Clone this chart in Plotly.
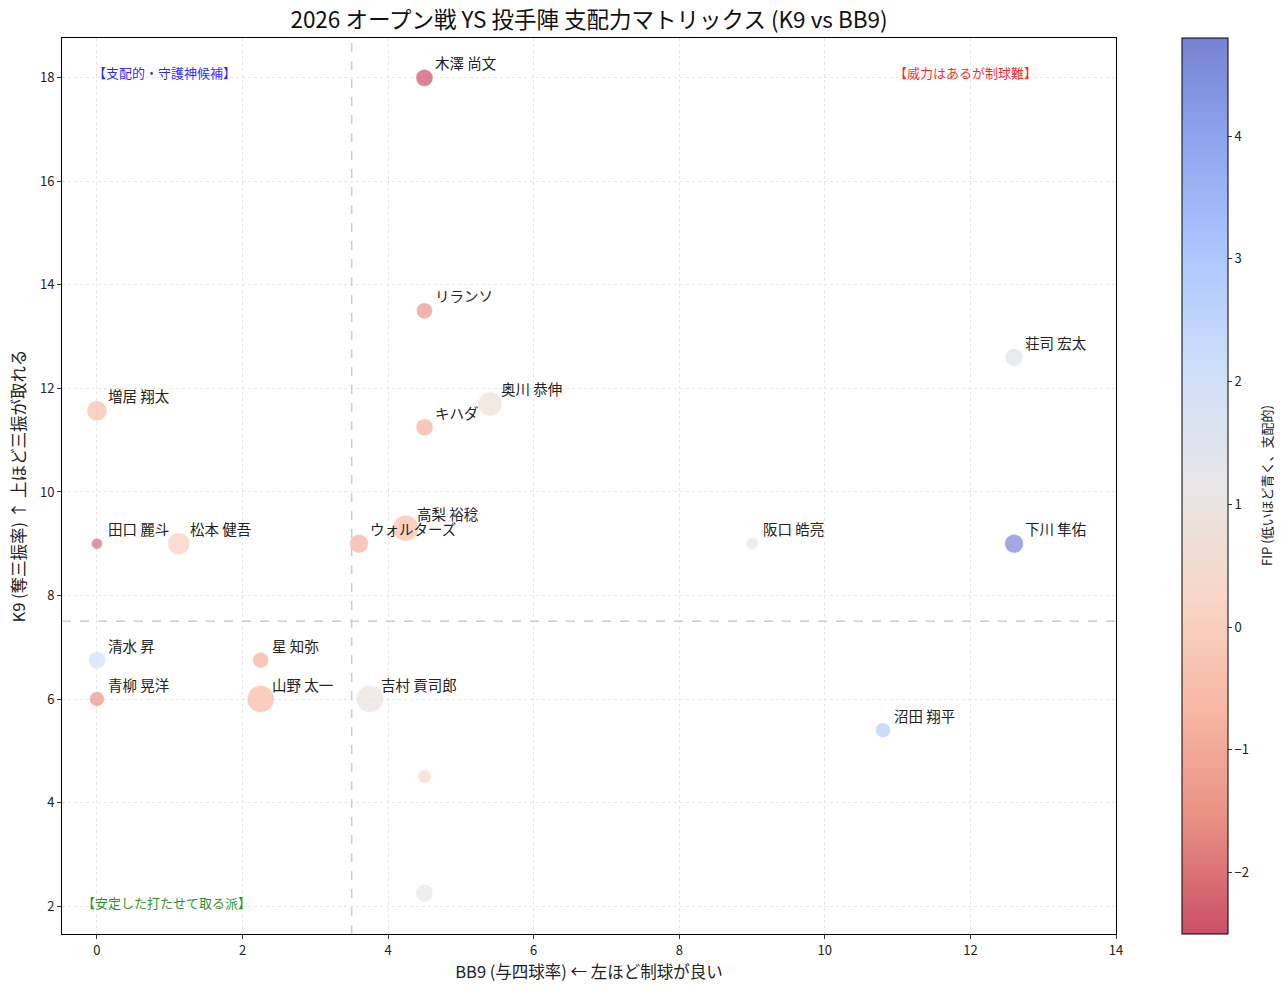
import plotly.graph_objects as go

names = ["木澤 尚文", "リランソ", "荘司 宏太", "奥川 恭伸", "増居 翔太", "キハダ", "田口 麗斗",
         "松本 健吾", "ウォルターズ", "高梨 裕稔", "阪口 皓亮", "下川 隼佑", "清水 昇", "星 知弥",
         "青柳 晃洋", "山野 太一", "吉村 貢司郎", "沼田 翔平", "", ""]
bb9 = [4.5, 4.5, 12.6, 5.4, 0.0, 4.5, 0.0, 1.125, 3.6, 4.24, 9.0, 12.6, 0.0, 2.25, 0.0, 2.25, 3.75, 10.8, 4.5, 4.5]
k9 = [18.0, 13.5, 12.6, 11.7, 11.57, 11.25, 9.0, 9.0, 9.0, 9.3, 9.0, 9.0, 6.75, 6.75, 6.0, 6.0, 6.0, 5.4, 4.5, 2.25]
fip = [-2.5, -1.5, 1.6, 0.7, -0.5, -0.8, -2.1, 0.0, -0.8, -0.5, 1.0, 4.7, 2.0, -0.8, -1.5, -0.6, 1.0, 2.8, 0.3, 1.1]
batters = [24, 21, 26, 47, 33, 24, 10, 40, 29, 55, 12, 29, 24, 21, 18, 60, 60, 18, 14, 24]

fip_min, fip_max = -2.5, 4.8
k9_line, bb9_line = 7.5, 3.5

# matplotlib coolwarm_r blended with white at alpha 0.7
coolwarm = [(59, 76, 192), (98, 130, 234), (141, 176, 254), (187, 210, 246), (221, 220, 220),
            (245, 196, 173), (244, 152, 122), (221, 96, 76), (180, 4, 38)]
alpha = 0.7
def blend(c):
    return "rgb(%d,%d,%d)" % tuple(round(alpha * v + (1 - alpha) * 255) for v in c)
rev = coolwarm[::-1]
colorscale = [[i / (len(rev) - 1), blend(c)] for i, c in enumerate(rev)]

sizes = [(b ** 0.5) * 3.5 for b in batters]

FONT = "Noto Sans CJK JP, Noto Sans, sans-serif"

fig = go.Figure()
fig.add_trace(go.Scatter(
    x=bb9, y=k9, mode="markers",
    marker=dict(size=sizes, color=fip, cmin=fip_min, cmax=fip_max, colorscale=colorscale,
                line=dict(color="white", width=0.5),
                colorbar=dict(
                    x=1.0626, xanchor="left", xpad=0, y=0.5, yanchor="middle", ypad=0,
                    len=1, lenmode="fraction", thickness=46,
                    outlinecolor="black", outlinewidth=1,
                    ticks="outside", ticklen=4, tickcolor="#333",
                    tickvals=[-2, -1, 0, 1, 2, 3, 4],
                    ticktext=["−2", "−1", "0", "1", "2", "3", "4"],
                    tickfont=dict(size=13, color="#222"))),
    hovertext=names, showlegend=False))

fig.add_shape(type="line", x0=bb9_line, x1=bb9_line, y0=0, y1=1, xref="x", yref="paper",
              line=dict(color="#cccccc", width=1.5, dash="dash"))
fig.add_shape(type="line", x0=0, x1=1, y0=k9_line, y1=k9_line, xref="paper", yref="y",
              line=dict(color="#cccccc", width=1.5, dash="dash"))

for n, x, y in zip(names, bb9, k9):
    if n:
        fig.add_annotation(x=x, y=y, text=n, showarrow=False, xanchor="left", yanchor="middle",
                           xshift=9, yshift=15, font=dict(size=14.5, color="#222"))

fig.add_annotation(x=0, y=18, text="【支配的・守護神候補】", showarrow=False, xanchor="left",
                   yanchor="middle", xshift=-6, yshift=5, font=dict(size=13, color="rgba(0,0,255,0.85)"))
fig.add_annotation(x=11, y=18, text="【威力はあるが制球難】", showarrow=False, xanchor="left",
                   yanchor="middle", xshift=-6, yshift=5, font=dict(size=13, color="rgba(255,0,0,0.85)"))
fig.add_annotation(x=-0.15, y=2.0, text="【安定した打たせて取る派】", showarrow=False, xanchor="left",
                   yanchor="middle", xshift=-6, yshift=4, font=dict(size=13, color="rgba(0,128,0,0.85)"))

# colorbar title
fig.add_annotation(x=(1266 - 62) / 1054, y=0.5, xref="paper", yref="paper", xanchor="center",
                   yanchor="middle", text="FIP (低いほど青く、支配的)", textangle=-90, showarrow=False,
                   font=dict(size=13, color="#222"))

axis_common = dict(showline=True, linecolor="black", linewidth=1, mirror=True,
                   ticks="outside", ticklen=4, tickcolor="#333",
                   showgrid=True, gridcolor="#e6e6e6", griddash="dot", gridwidth=1,
                   zeroline=False, tickfont=dict(size=13, color="#222"))

fig.update_xaxes(range=[-0.48, 14], tickvals=[0, 2, 4, 6, 8, 10, 12, 14],
                 title=dict(text="BB9 (与四球率) ← 左ほど制球が良い", font=dict(size=16.5, color="#222"), standoff=6),
                 **axis_common)
fig.update_yaxes(range=[1.46, 18.77], tickvals=[2, 4, 6, 8, 10, 12, 14, 16, 18],
                 title=dict(text="K9 (奪三振率) ↑ 上ほど三振が取れる", font=dict(size=16.5, color="#222"), standoff=10),
                 **axis_common)

fig.update_layout(
    width=1284, height=990,
    margin=dict(l=62, r=168, t=38, b=56, autoexpand=False),
    paper_bgcolor="white", plot_bgcolor="white",
    font=dict(family=FONT, color="#222"),
    title=dict(text="2026 オープン戦 YS 投手陣 支配力マトリックス (K9 vs BB9)",
               x=(62 + 1116) / 2 / 1284, xanchor="center", y=1 - 20 / 990, yanchor="middle",
               font=dict(size=22.5, color="#111")),
)

fig.write_html("out.html")
